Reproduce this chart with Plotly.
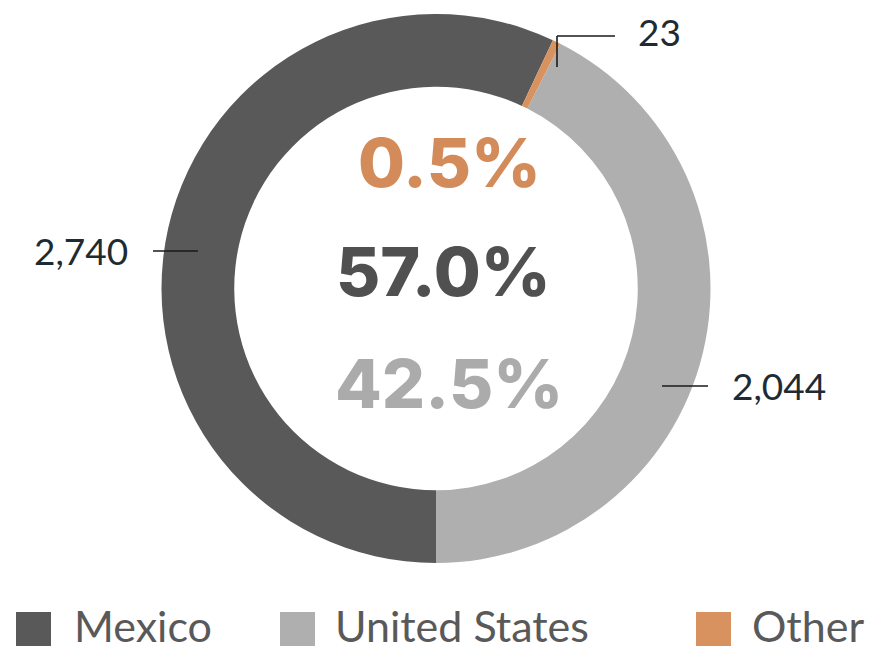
import plotly.graph_objects as go

# Shipments by origin
countries = ["Mexico", "United States", "Other"]
volumes = [2740, 2044, 23]
colors = ["#595959", "#afafaf", "#d8925f"]

W, H = 872, 653


def px(x, y):
    """Pixel position -> paper coordinates."""
    return x / W, 1 - y / H


total = sum(volumes)
shares = [v / total * 100 for v in volumes]

# donut placement (pixels)
cx, cy, r = 436, 288.5, 274.5

fig = go.Figure(
    go.Pie(
        labels=countries,
        values=volumes,
        marker=dict(colors=colors, line=dict(width=0)),
        hole=0.735,
        sort=False,
        direction="counterclockwise",
        rotation=180,
        textinfo="none",
        hoverinfo="label+value+percent",
        showlegend=False,
        domain=dict(x=[(cx - r) / W, (cx + r) / W], y=[1 - (cy + r) / H, 1 - (cy - r) / H]),
    )
)

shapes = []
annotations = []
line_style = dict(color="#1a1a1a", width=1.6)
label_font = dict(family="Lato", size=37, color="#1f2b33")


def seg(x0, y0, x1, y1):
    a0, b0 = px(x0, y0)
    a1, b1 = px(x1, y1)
    shapes.append(dict(type="line", xref="paper", yref="paper", x0=a0, y0=b0, x1=a1, y1=b1, line=line_style))


def label(text, x, y, anchor):
    a, b = px(x, y)
    annotations.append(dict(text=text, x=a, y=b, xref="paper", yref="paper", xanchor=anchor,
                            yanchor="middle", showarrow=False, font=label_font))


# value callouts with leader lines
seg(153, 251, 198, 251)
label(f"{volumes[0]:,}", 130, 250, "right")

seg(662, 386, 708, 386)
label(f"{volumes[1]:,}", 730, 386, "left")

seg(557, 67, 557, 36)
seg(557, 36, 615, 36)
label(f"{volumes[2]:,}", 636, 31, "left")

# percentages in the hole
center_rows = [(2, 449, 162), (0, 444, 271), (1, 449, 383)]
center_colors = ["#505050", "#ababab", "#d38b5a"]
for idx, x, y in center_rows:
    a, b = px(x, y)
    annotations.append(dict(
        text=f"{shares[idx]:.1f}%", x=a, y=b, xref="paper", yref="paper",
        xanchor="center", yanchor="middle", showarrow=False,
        font=dict(family="Inter", size=68, weight=800, color=center_colors[idx]),
    ))

# legend: swatches and names
legend_pos = [(16, 72), (280, 333), (696, 750)]
for (sx, tx), name, col in zip(legend_pos, countries, colors):
    a0, b0 = px(sx, 612)
    a1, b1 = px(sx + 35, 646)
    shapes.append(dict(type="rect", xref="paper", yref="paper", x0=a0, y0=b1, x1=a1, y1=b0,
                       fillcolor=col, line=dict(width=0)))
    a, b = px(tx, 625)
    annotations.append(dict(text=name, x=a, y=b, xref="paper", yref="paper", xanchor="left",
                            yanchor="middle", showarrow=False,
                            font=dict(family="Lato", size=43, color="#595959")))

fig.update_layout(
    width=W, height=H,
    margin=dict(l=0, r=0, t=0, b=0),
    paper_bgcolor="white",
    plot_bgcolor="white",
    shapes=shapes,
    annotations=annotations,
)

fig.write_html("out.html", config={"displayModeBar": False})
